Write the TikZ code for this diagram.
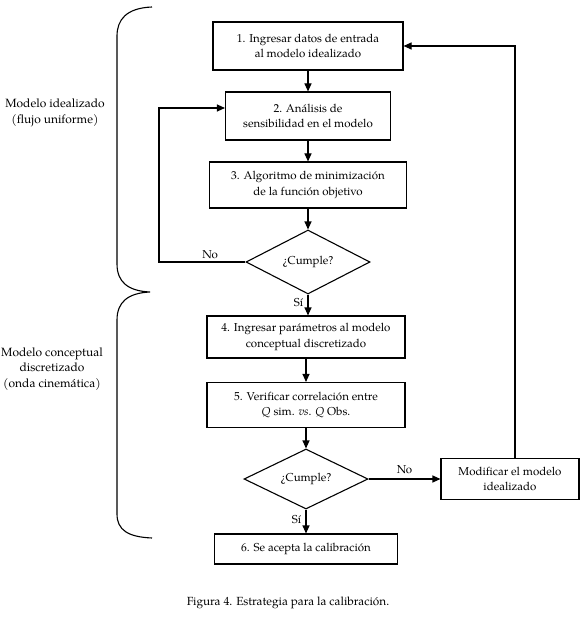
\documentclass[tikz,border=0pt]{standalone}
\usepackage{fontspec}
\setmainfont{TeX Gyre Pagella}
\usetikzlibrary{shapes.geometric,arrows.meta,calc}
\begin{document}
\begin{tikzpicture}[x=1pt,y=-1pt,
  every node/.style={font=\fontsize{11.5}{15.5}\selectfont},
  box/.style={draw,line width=1.1pt,align=center,inner sep=2pt},
  dia/.style={draw,line width=1.1pt,diamond,aspect=2,inner sep=0pt},
  arr/.style={line width=1.1pt,-{Triangle[length=8pt,width=7pt]}},
  brace/.style={line width=1.1pt},
  lbl/.style={font=\fontsize{12}{15.5}\selectfont}]
\useasboundingbox (0,0) rectangle (584,620);
\node[box,minimum width=190pt,minimum height=48pt] (b1) at (308,46) {1. Ingresar datos de entrada\\al modelo idealizado};
\node[box,minimum width=165pt,minimum height=48pt] (b2) at (308,116) {2. An\'alisis de\\sensibilidad en el modelo};
\node[box,minimum width=197pt,minimum height=46pt] (b3) at (308,185) {3. Algoritmo de minimizaci\'on\\de la funci\'on objetivo};
\node[dia,minimum width=124pt,minimum height=64pt] (d1) at (308,262) {¿Cumple?};
\node[box,minimum width=198pt,minimum height=42pt] (b4) at (306,337) {4. Ingresar par\'ametros al modelo\\conceptual discretizado};
\node[box,minimum width=198pt,minimum height=45pt] (b5) at (306,405) {5. Verificar correlaci\'on entre\\\textit{Q} sim. \textit{vs}. \textit{Q} Obs.};
\node[dia,minimum width=124pt,minimum height=60pt] (d2) at (306,479) {¿Cumple?};
\node[box,minimum width=183pt,minimum height=30pt] (b6) at (306,549) {6. Se acepta la calibraci\'on};
\node[box,minimum width=138pt,minimum height=41pt] (m) at (510,479) {Modificar el modelo\\idealizado};

\node[lbl,align=center] (t1) at (55,113) {Modelo idealizado\\(flujo uniforme)};
\node[lbl,align=center] (t2) at (52,369) {Modelo conceptual\\discretizado\\(onda cinem\'atica)};
\node[font=\fontsize{11.8}{14}\selectfont] (cap) at (288,603) {Figura 4. Estrategia para la calibraci\'on.};

\draw[arr] (b1) -- (b2);
\draw[arr] (b2) -- (b3);
\draw[arr] (b3) -- (d1);
\draw[arr] (d1.south) -- (d1.south |- b4.north) node[pos=0.4,left=1pt] {Sí};
\draw[arr] (b4) -- (b5);
\draw[arr] (b5) -- (d2);
\draw[arr] (d2) -- (b6) node[pos=0.4,left=1pt] {Sí};
\coordinate (lx) at (159,0);
\coordinate (in2) at ($(b2.west)+(0,-8)$);
\draw[arr] (d1.west) -- (d1.west -| lx) node[midway,above=-1pt,xshift=8pt] {No} |- (in2);
\draw[arr] (d2.east) -- (m.west) node[midway,above=1pt] {No};
\coordinate (rx) at (515,0);
\draw[arr] (m.north -| rx) |- (b1.east);

\draw[brace] (152,7) .. controls (126,8) and (117,20) .. (117,36) -- (117,264)
  .. controls (117,282) and (128,291) .. (150,292)
  .. controls (128,293) and (117,302) .. (117,320) -- (117,514)
  .. controls (117,530) and (128,537) .. (152,538);
\end{tikzpicture}
\end{document}
